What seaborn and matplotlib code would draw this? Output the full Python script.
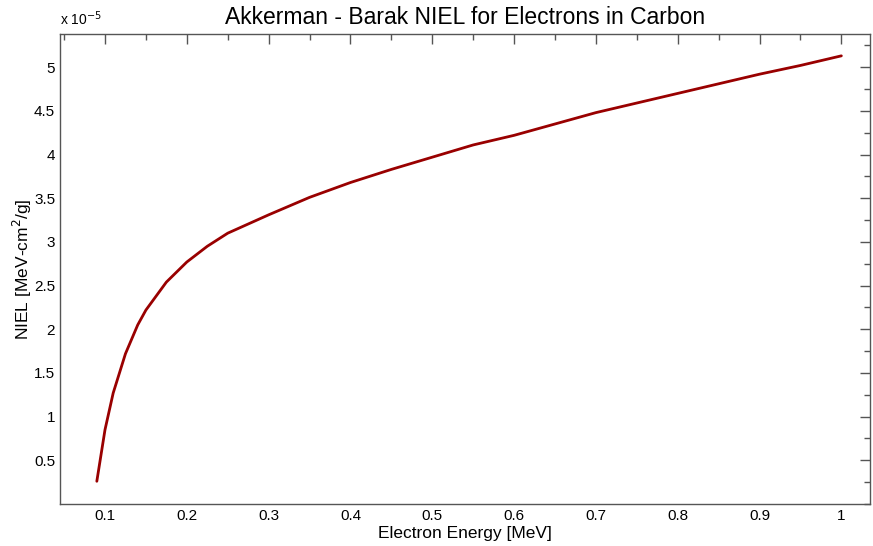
import numpy as np
import matplotlib
matplotlib.use("Agg")
import matplotlib.pyplot as plt
from matplotlib.ticker import MultipleLocator
import seaborn as sns

# Electron energy [MeV] and NIEL [1e-5 MeV-cm^2/g]
energy = [0.09, 0.10, 0.11, 0.125, 0.14, 0.15, 0.175, 0.20, 0.225, 0.25,
          0.30, 0.35, 0.40, 0.45, 0.50, 0.55, 0.60, 0.65, 0.70, 0.75,
          0.80, 0.85, 0.90, 0.95, 1.00]
niel = [0.26, 0.85, 1.27, 1.72, 2.05, 2.22, 2.54, 2.77, 2.95, 3.10,
        3.31, 3.51, 3.68, 3.83, 3.97, 4.11, 4.22, 4.35, 4.48, 4.59,
        4.70, 4.81, 4.92, 5.02, 5.13]
xtick_labels = ['0.1', '0.2', '0.3', '0.4', '0.5', '0.6', '0.7', '0.8', '0.9', '1']
ytick_labels = ['0.5', '1', '1.5', '2', '2.5', '3', '3.5', '4', '4.5', '5']

sns.set_style("white")
plt.rcParams['font.family'] = ['Liberation Sans', 'DejaVu Sans']
plt.rcParams['text.color'] = 'black'
plt.rcParams['axes.labelcolor'] = 'black'

fig = plt.figure(figsize=(8.73, 5.46), dpi=100)
ax = fig.add_axes([60 / 873, 1 - 504 / 546, 810 / 873, 470 / 546])

sns.lineplot(x=energy, y=niel, ax=ax, color='#990000', linewidth=2)

ax.set_xlim(0.045, 1.035)
ax.set_ylim(0, 5.38)
ax.xaxis.set_minor_locator(MultipleLocator(0.05))
ax.yaxis.set_minor_locator(MultipleLocator(0.25))
ax.set_xticks(np.arange(0.1, 1.01, 0.1))
ax.set_xticklabels(xtick_labels)
ax.set_yticks(np.arange(0.5, 5.01, 0.5))
ax.set_yticklabels(ytick_labels)

ax.tick_params(which='both', direction='in', top=True, right=True,
               colors='#555555', labelcolor='black', labelsize=11)
ax.tick_params(which='major', length=7, width=1)
ax.tick_params(which='minor', length=4, width=1)
for s in ax.spines.values():
    s.set_color('#555555')
    s.set_linewidth(1)

ax.set_title('Akkerman - Barak NIEL for Electrons in Carbon', fontsize=16.5,
             pad=7, color='black')
ax.set_xlabel('Electron Energy [MeV]', fontsize=12.5, labelpad=2)
ax.set_ylabel('NIEL [MeV-cm$^2$/g]', fontsize=12.5, labelpad=0)
ax.text(0.0, 1.012, 'x 10$^{-5}$', transform=ax.transAxes, fontsize=10,
        ha='left', va='bottom')

fig.savefig('out.png', dpi=100)
